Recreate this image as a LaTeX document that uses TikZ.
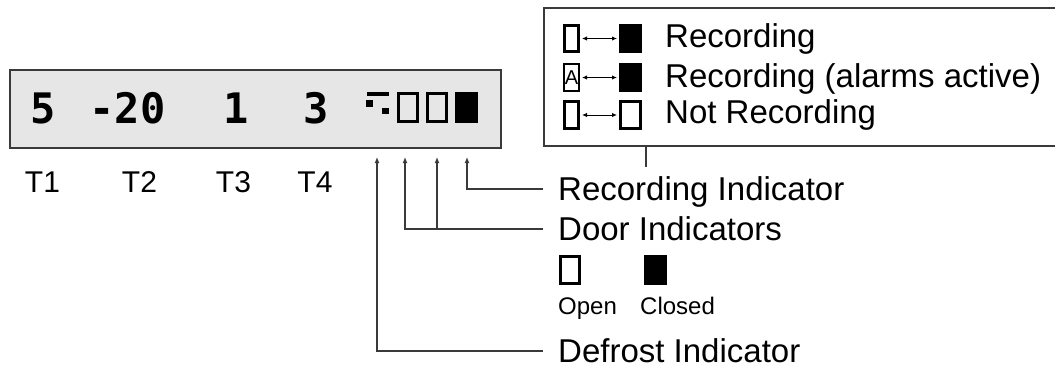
\documentclass[tikz,border=0pt]{standalone}
\usepackage{fontspec}
\setmainfont{Liberation Sans}
\newfontfamily\lcdfont{DejaVu Sans Mono}
\usetikzlibrary{arrows.meta}
\definecolor{linegray}{HTML}{3A3A3A}
\definecolor{panelgray}{HTML}{E6E6E6}
\begin{document}
\begin{tikzpicture}[x=1pt,y=-1pt,
  lbl/.style={anchor=base west,inner sep=0pt,font=\fontsize{33}{36}\selectfont},
  small/.style={anchor=base west,inner sep=0pt,font=\fontsize{24}{26}\selectfont},
  tlbl/.style={anchor=base,inner sep=0pt,font=\fontsize{30}{32}\selectfont},
  digit/.style={anchor=base,inner sep=0pt,font=\lcdfont\bfseries\fontsize{42}{44}\selectfont},
  conn/.style={draw=linegray,line width=1.4pt,-{Latex[length=6pt,width=5pt]}},
  plain/.style={draw=linegray,line width=1.4pt},
  lcdopen/.style={draw=black,line width=3.2pt},
  legarrow/.style={draw=black,line width=1pt,{Latex[length=5pt,width=4.5pt]}-{Latex[length=5pt,width=4.5pt]}}]
\useasboundingbox (0,0) rectangle (1055,367);
% display panel
\node[draw=linegray,line width=2pt,fill=panelgray,minimum width=491pt,minimum height=78pt,inner sep=0pt,anchor=north west] (panel) at (9,69) {};
\node[digit] (d1) at (43.5,123) {5};
\node[digit] (d2) at (127.5,123) {-20};
\node[digit] (d3) at (236.5,123) {1};
\node[digit] (d4) at (316.5,123) {3};
% defrost glyph
\fill[black] (367,92) rectangle (389,95.5);
\fill[black] (366,100) rectangle (373,107);
\fill[black] (382,108) rectangle (389,114);
% door squares
\draw[lcdopen] (398.6,93.6) rectangle (417.4,121.4);
\draw[lcdopen] (427.6,93.6) rectangle (446.4,121.4);
% recording
\fill[black] (455,92) rectangle (478,123);
% T labels
\node[tlbl] (t1) at (42.5,192) {T1};
\node[tlbl] (t2) at (139.5,192) {T2};
\node[tlbl] (t3) at (233.5,192) {T3};
\node[tlbl] (t4) at (315,192) {T4};
% arrow tips
\coordinate (defa) at (377,157);
\coordinate (door1) at (405,157);
\coordinate (door2) at (437,157);
\coordinate (reca) at (467,157);
% labels
\node[lbl] (reclbl) at (558,200) {Recording Indicator};
\node[lbl] (doorlbl) at (558,240) {Door Indicators};
\node[lbl] (deflbl) at (558,362) {Defrost Indicator};
\coordinate (recend) at (543,189);
\coordinate (doorend) at (543,229);
\coordinate (defend) at (543,351);
\coordinate (doorj) at (437,229);
\draw[conn] (recend) -| (reca);
\draw[conn] (doorend) -| (door1);
\draw[conn] (doorj) -- (door2);
\draw[conn] (defend) -| (defa);
% open / closed
\draw[black,line width=3pt] (560.5,256.5) rectangle (579.5,283.5);
\fill[black] (644,255) rectangle (667,285);
\node[small] (openlbl) at (558,314) {Open};
\node[small] (closedlbl) at (640,314) {Closed};
% legend box
\coordinate (lgtr) at (1058,8);
\coordinate (lgbr) at (1058,146);
\draw[plain,line width=1.8pt] (lgtr) -- (544,8) -- (544,146) -- (lgbr);
\coordinate (ticktop) at (646,146);
\coordinate (tickbot) at (646,167);
\draw[plain] (ticktop) -- (tickbot);
% legend row 1
\draw[black,line width=2.8pt] (564.4,25.4) rectangle (578.6,51.6);
\coordinate (l1a) at (582,38.5);
\coordinate (l1b) at (617,38.5);
\draw[legarrow] (l1a) -- (l1b);
\fill[black] (619,24) rectangle (642,53);
\node[lbl] (leg1) at (665,47) {Recording};
% legend row 2
\draw[black,line width=2.2pt] (564.1,64.1) rectangle (578.9,90.9);
\node[inner sep=0pt,font=\fontsize{20}{20}\selectfont] (abox) at (571.5,77.5) {A};
\coordinate (l2a) at (582,77.5);
\coordinate (l2b) at (617,77.5);
\draw[legarrow] (l2a) -- (l2b);
\fill[black] (619,63) rectangle (642,92);
\node[lbl] (leg2) at (665,87) {Recording (alarms active)};
% legend row 3
\draw[black,line width=2.8pt] (564.4,101.4) rectangle (578.6,128.6);
\coordinate (l3a) at (582,115);
\coordinate (l3b) at (617,115);
\draw[legarrow] (l3a) -- (l3b);
\draw[black,line width=2.8pt] (620.4,101.4) rectangle (640.6,128.6);
\node[lbl] (leg3) at (665,123) {Not Recording};
\end{tikzpicture}
\end{document}
